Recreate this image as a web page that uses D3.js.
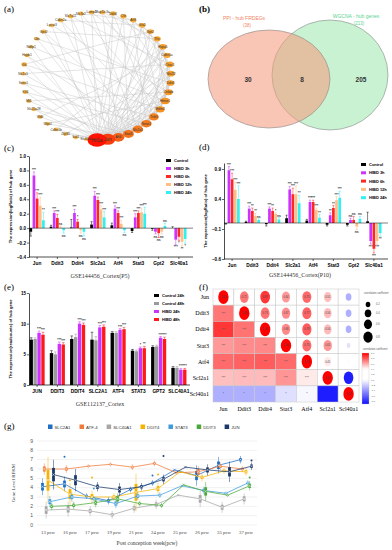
<!DOCTYPE html>
<html>
<head>
<meta charset="utf-8">
<script src="https://cdnjs.cloudflare.com/ajax/libs/d3/7.8.5/d3.min.js"></script>
<style>
  body { margin: 0; background: #fff; }
  svg { display: block; font-family: "Liberation Sans", Arial, sans-serif; }
  .serif { font-family: "Liberation Serif", "DejaVu Serif", serif; }
</style>
</head>
<body>
<svg id="fig" width="392" height="550"></svg>
<script>
// ---------- (a) PPI network ----------
const ppiNodes = ['Hif1a', 'Jun', 'Atf4', 'Stat3', 'Slc2a1', 'Sesn2', 'Trib3', 'Mdm2', 'Hmox1', 'Cebpb',
  'Ddit3', 'Nfe2l2', 'Chac1', 'Cdkn1a', 'Hspa5', 'Tfrc', 'Gpt2', 'Gls2', 'Atf3', 'Cth', 'Ddit4',
  'Map1lc3a', 'Lamp2', 'Slc3a2', 'Slc7a11', 'Cdkn2a', 'Lpcat3', 'Gpx2', 'Cbs', 'Ndfip1', 'Hspb1',
  'Gk', 'Slc1a5', 'Sesn1', 'Klf4', 'Mt1', 'Slc25a28', 'Vldlr', 'Wipi2', 'Cdkn1b', 'Zfp36', 'Sat1', 'Slc40a1'];
// targets for each source index
const ppiLinks = [
  [1, 2, 3, 4, 5, 6, 7, 8, 9, 10, 11, 12, 13, 14, 15, 17, 19, 20, 22, 24, 26, 29, 31, 34, 36, 39, 41, 42],
  [2, 3, 4, 5, 6, 7, 8, 9, 11, 13, 14, 16, 18, 20, 23, 27, 30, 33, 37, 40],
  [3, 4, 5, 6, 10, 12, 14, 17, 21, 25, 28, 35, 38],
  [4, 5, 7, 9, 11, 15, 19, 24, 32, 36],
  [5, 6, 8, 12, 16, 22, 30, 41],
  [6, 7, 10, 13, 18, 27, 34],
  [8, 9, 14, 20, 25, 33],
  [10, 11, 17, 23, 31],
  [12, 15, 21, 29, 38],
  [13, 16, 26, 35],
  [14, 19, 28],
  [15, 22, 40],
  [18, 24, 32],
  [17, 37],
  [20, 39],
  [21, 27],
  [19, 31],
  [25],
  [23]
];

// ---------- (b) Venn ----------
const vennNames = ['PPI - hub FRDEGs', 'WGCNA - hub genes'];
const vennTotals = [38, 213];
const vennCounts = [30, 8, 205];

// ---------- (c)/(d) GSE144456 ----------
const hubGenes = ['Jun', 'Ddit3', 'Ddit4', 'Slc2a1', 'Atf4', 'Stat3', 'Gpt2', 'Slc40a1'];
const hibdGroups = ['Control', 'HIBD 3h', 'HIBD 6h', 'HIBD 12h', 'HIBD 24h'];

const p5Values = [
  [-0.05, 0.73, 0.41, 0.31, 0.11],
  [0.02, 0.21, 0.14, 0.01, -0.03],
  [0.01, 0.21, 0.09, -0.03, -0.05],
  [0.05, 0.45, 0.39, 0.26, 0.15],
  [0.04, 0.27, 0.21, 0.06, -0.03],
  [-0.04, 0.15, 0.21, 0.22, 0.20],
  [-0.01, -0.05, -0.07, -0.05, 0.03],
  [0.00, -0.16, -0.12, -0.19, -0.15]
];
const p5Errors = [
  [0.06, 0.05, 0.08, 0.12, 0.11],
  [0.02, 0.03, 0.05, 0.02, 0.04],
  [0.11, 0.05, 0.03, 0.04, 0.06],
  [0.04, 0.06, 0.04, 0.05, 0.08],
  [0.03, 0.04, 0.03, 0.05, 0.03],
  [0.02, 0.05, 0.03, 0.06, 0.09],
  [0.02, 0.03, 0.06, 0.03, 0.04],
  [0.02, 0.07, 0.05, 0.06, 0.06]
];
const p5Sig = [
  ['***', '***', '***', '**'],
  ['***', '***', 'ns', 'ns'],
  ['***', '*', 'ns', 'ns'],
  ['***', '***', '***', '***'],
  ['***', '***', '***', 'ns'],
  ['***', '***', '***', '***'],
  ['ns', 'ns', 'ns', 'ns'],
  ['***', '*', '**', '*']
];

const p10Values = [
  [-0.01, 0.88, 0.73, 0.55, 0.40],
  [0.02, 0.24, 0.20, 0.12, 0.05],
  [-0.02, 0.24, 0.20, 0.15, 0.06],
  [0.08, 0.56, 0.48, 0.48, 0.33],
  [0.04, 0.35, 0.35, 0.22, 0.09],
  [-0.03, 0.13, 0.25, 0.38, 0.42],
  [-0.03, 0.05, 0.05, -0.06, 0.07],
  [0.03, -0.30, -0.43, -0.30, -0.17]
];
const p10Errors = [
  [0.01, 0.06, 0.10, 0.13, 0.22],
  [0.01, 0.04, 0.05, 0.04, 0.02],
  [0.03, 0.03, 0.05, 0.02, 0.03],
  [0.05, 0.05, 0.10, 0.14, 0.13],
  [0.02, 0.03, 0.03, 0.03, 0.05],
  [0.02, 0.04, 0.04, 0.06, 0.11],
  [0.02, 0.03, 0.06, 0.05, 0.04],
  [0.15, 0.05, 0.07, 0.06, 0.05]
];
const p10Sig = [
  ['***', '***', '***', '***'],
  ['***', '**', '**', 'ns'],
  ['***', '**', '*', 'ns'],
  ['***', '***', '***', '**'],
  ['***', '***', '***', '**'],
  ['**', '**', '***', '***'],
  ['ns', 'ns', 'ns', 'ns'],
  ['***', '***', '***', '**']
];

// ---------- (e) GSE112137 ----------
const hubGenesUpper = ['JUN', 'DDIT3', 'DDIT4', 'SLC2A1', 'ATF4', 'STAT3', 'GPT2', 'SLC40A1'];
const cortexGroups = ['Control 24h', 'Control 48h', 'HIBD 24h', 'HIBD 48h'];
const cortexValues = [
  [7.4, 7.5, 8.5, 8.2],
  [5.2, 5.0, 6.7, 6.6],
  [7.5, 7.8, 10.0, 9.8],
  [7.4, 7.3, 9.4, 9.5],
  [8.5, 8.5, 9.0, 9.1],
  [5.6, 5.5, 6.0, 6.0],
  [6.2, 6.3, 7.7, 7.5],
  [2.8, 2.8, 2.5, 2.5]
];
const cortexErrors = [
  [0.3, 0.2, 0.3, 0.4],
  [0.4, 0.4, 0.3, 0.3],
  [0.5, 0.5, 0.3, 0.3],
  [1.2, 0.6, 0.3, 0.3],
  [0.2, 0.2, 0.2, 0.3],
  [0.2, 0.2, 0.2, 0.3],
  [0.2, 0.2, 0.2, 0.3],
  [0.2, 0.2, 0.2, 0.2]
];
const cortexSig = [
  ['***', '***'], ['***', '***'], ['***', '***'], ['***', '***'],
  ['***', '***'], ['*', '**'], ['***', '***'], ['***', '***']
];

// ---------- (f) correlation ----------
const corrGenes = ['Jun', 'Ddit3', 'Ddit4', 'Stat3', 'Atf4', 'Scl2a1', 'Scl40a1'];
const corrValues = [
  [1.00, 0.72, 0.87, 0.64, 0.75, 0.55, -0.30],
  [0.72, 1.00, 0.73, 0.67, 0.77, 0.56, -0.30],
  [0.87, 0.73, 1.00, 0.68, 0.78, 0.56, -0.30],
  [0.64, 0.67, 0.68, 1.00, 0.75, 0.65, -0.12],
  [0.75, 0.77, 0.78, 0.75, 1.00, 0.45, -0.03],
  [0.55, 0.56, 0.56, 0.65, 0.45, 1.00, -0.85],
  [-0.30, -0.30, -0.30, -0.12, -0.03, -0.85, 1.00]
];
const corrStars = [
  [],
  ['***'],
  ['***', '***'],
  ['***', '***', '***'],
  ['***', '***', '***', '***'],
  ['***', '***', '***', '***', '***'],
  ['*', '*', '*', '*', '*', '']
];
const sizeLegendValues = [0.2, 0.4, 0.6, 0.8];

// ---------- (g) fetal expression ----------
const weeks = ['13 pcw', '16 pcw', '17 pcw', '19 pcw', '21 pcw', '24 pcw', '25 pcw', '26 pcw', '35 pcw', '37 pcw'];
const fetalSeries = ['SLC2A1', 'ATF-4', 'SLC40A1', 'DDIT4', 'STAT3', 'DDIT3', 'JUN'];
const fetalColors = ['#1f6fc5', '#f07a3a', '#a6a6a6', '#f5b400', '#3d9be0', '#4aa83a', '#1b3a6b'];
const slc2a1Rpkm = [4.1, 4.4, 3.1, 2.6, 3.8, 4.5, 5.9, 5.3, 6.4, 7.0];
const atf4Rpkm = [6.0, 6.0, 6.3, 6.5, 6.2, 6.6, 5.6, 5.7, 6.3, 6.0];
const slc40a1Rpkm = [1.6, 1.7, 1.5, 1.1, 1.8, 2.2, 3.2, 2.8, 1.9, 2.8];
const ddit4Rpkm = [4.8, 3.3, 3.0, 3.0, 3.5, 3.9, 5.7, 5.1, 5.8, 5.7];
const stat3Rpkm = [2.5, 3.0, 2.8, 2.3, 3.1, 3.2, 4.2, 3.7, 3.4, 4.5];
const ddit3Rpkm = [2.0, 2.1, 2.4, 2.8, 2.3, 2.1, 4.3, 3.6, 3.2, 4.2];
const junRpkm = [5.4, 4.8, 4.1, 3.8, 4.1, 4.9, 6.2, 5.9, 5.7, 6.3];
const slc2a1Spread = [0.9, 0.8, 0.3, 0.4, 0.3, 0.3, 0.0, 1.1, 0.9, 0.4];
const atf4Spread = [0.6, 0.4, 0.2, 0.2, 0.3, 0.3, 0.0, 0.6, 0.4, 0.3];
const slc40a1Spread = [0.9, 0.8, 0.5, 0.4, 0.5, 0.5, 0.0, 0.9, 0.6, 0.6];
const ddit4Spread = [2.5, 1.2, 0.7, 0.4, 2.0, 0.6, 0.0, 0.4, 0.3, 0.4];
const stat3Spread = [0.6, 0.5, 0.3, 0.5, 0.4, 0.3, 0.0, 0.4, 0.2, 0.3];
const ddit3Spread = [0.4, 0.4, 0.5, 0.6, 0.3, 0.3, 0.0, 1.0, 0.2, 0.5];
const junSpread = [1.6, 1.2, 0.5, 0.7, 0.4, 0.5, 0.0, 0.6, 1.1, 0.4];
const fetalOutliers = [
  ['SLC2A1', '16 pcw', 7.3], ['SLC2A1', '24 pcw', 5.3], ['DDIT4', '16 pcw', 4.8],
  ['DDIT4', '17 pcw', 5.1], ['DDIT4', '24 pcw', 5.4], ['JUN', '24 pcw', 7.4],
  ['JUN', '37 pcw', 6.9], ['DDIT3', '37 pcw', 5.1], ['STAT3', '17 pcw', 3.9]
];

const svg = d3.select('#fig');
svg.append('rect').attr('width', 392).attr('height', 550).attr('fill', '#fff');

function panelLabel(txt, x, y, bold) {
  svg.append('text').attr('class', 'serif')
    .attr('x', x).attr('y', y)
    .attr('font-size', 9)
    .attr('font-weight', bold ? 'bold' : 'normal')
    .text(txt);
}

// ---------------- (a) ----------------
function drawNetwork() {
  const g = svg.append('g');
  const cx = 97, cy = 76, rx = 74, ry = 64;
  const n = ppiNodes.length;
  const angle = d3.scaleLinear().domain([0, n]).range([Math.PI / 2, Math.PI / 2 - 2 * Math.PI]);

  const links = [];
  ppiLinks.forEach((ts, s) => ts.forEach(t => links.push([s, t])));
  const degree = ppiNodes.map(() => 0);
  links.forEach(([s, t]) => { degree[s]++; degree[t]++; });

  const nodes = ppiNodes.map((name, i) => ({
    name, deg: degree[i],
    x: cx + rx * Math.cos(angle(i)),
    y: cy + ry * Math.sin(angle(i))
  }));

  const color = d3.scaleLinear().domain([2, 8, 15, 28])
    .range(['#f8b84a', '#f69a26', '#f2621a', '#ff1200']);
  const size = d3.scaleLinear().domain([1, 28]).range([2.3, 9.5]);

  g.selectAll('.edge').data(links).enter().append('line')
    .attr('class', 'edge')
    .attr('x1', d => nodes[d[0]].x).attr('y1', d => nodes[d[0]].y)
    .attr('x2', d => nodes[d[1]].x).attr('y2', d => nodes[d[1]].y)
    .attr('stroke', '#c4c4c4').attr('stroke-width', 0.45);

  // draw small nodes first so hubs sit on top
  const order = nodes.slice().sort((a, b) => a.deg - b.deg);
  g.selectAll('.node').data(order).enter().append('ellipse')
    .attr('class', 'node')
    .attr('cx', d => d.x).attr('cy', d => d.y)
    .attr('rx', d => size(d.deg)).attr('ry', d => size(d.deg) * 0.72)
    .attr('fill', d => color(d.deg));

  g.selectAll('.nlabel').data(order).enter().append('text')
    .attr('class', 'nlabel')
    .attr('x', d => d.x).attr('y', d => d.y)
    .attr('dy', '0.35em')
    .attr('text-anchor', 'middle')
    .attr('font-size', d => d.deg > 15 ? 4.6 : 3.3)
    .attr('fill', '#333')
    .text(d => d.name);
}

// ---------------- (b) ----------------
function drawVenn() {
  const g = svg.append('g');
  const circles = [
    { cx: 330, cy: 75, rx: 58, ry: 55, fill: '#c9f2d3' },
    { cx: 269, cy: 79, rx: 61, ry: 49, fill: 'rgba(244,155,126,0.58)' }
  ];
  g.selectAll('ellipse').data(circles).enter().append('ellipse')
    .attr('cx', d => d.cx).attr('cy', d => d.cy)
    .attr('rx', d => d.rx).attr('ry', d => d.ry)
    .attr('fill', d => d.fill)
    .attr('stroke', '#8a8a8a').attr('stroke-width', 0.6);

  const titles = [
    { x: 244, y: 20, c: '#f08566' },
    { x: 356, y: 18, c: '#5cd28f' }
  ];
  titles.forEach((t, i) => {
    g.append('text').attr('x', t.x).attr('y', t.y).attr('text-anchor', 'middle')
      .attr('font-size', 5).attr('fill', t.c).text(vennNames[i]);
    g.append('text').attr('x', t.x + 3).attr('y', t.y + 7).attr('text-anchor', 'middle')
      .attr('font-size', 4.5).attr('fill', t.c).text('(' + vennTotals[i] + ')');
  });

  const numX = [248, 302, 361];
  vennCounts.forEach((c, i) => {
    g.append('text').attr('x', numX[i]).attr('y', 82).attr('text-anchor', 'middle')
      .attr('font-size', 6.5).attr('font-weight', 'bold').attr('fill', '#333').text(c);
  });
}

// ---------------- bar panels ----------------
function drawBars(cfg) {
  const g = svg.append('g');
  const x0 = d3.scaleBand().domain(cfg.genes).range(cfg.xRange).paddingInner(0.2);
  const x1 = d3.scaleBand().domain(cfg.groups).range([0, x0.bandwidth()]).padding(0.14);
  const y = d3.scaleLinear().domain(cfg.yDomain).range(cfg.yRange);
  const color = d3.scaleOrdinal().domain(cfg.groups).range(cfg.colors);
  const base = cfg.yDomain[0] < 0 ? 0 : cfg.yDomain[0];

  const rows = [];
  cfg.genes.forEach((gene, gi) => cfg.groups.forEach((grp, si) => {
    rows.push({
      gene, grp,
      v: cfg.values[gi][si],
      e: cfg.errors[gi][si],
      sig: si >= cfg.nControl ? cfg.sig[gi][si - cfg.nControl] : null
    });
  }));

  const bx = d => x0(d.gene) + x1(d.grp);
  const bw = x1.bandwidth();

  // error bars
  rows.forEach(d => {
    const dir = d.v >= 0 ? 1 : -1;
    const yEnd = y(d.v + dir * d.e);
    const mid = bx(d) + bw / 2;
    g.append('line').attr('x1', mid).attr('x2', mid)
      .attr('y1', y(d.v)).attr('y2', yEnd)
      .attr('stroke', color(d.grp)).attr('stroke-width', 0.5);
    g.append('line').attr('x1', mid - bw * 0.4).attr('x2', mid + bw * 0.4)
      .attr('y1', yEnd).attr('y2', yEnd)
      .attr('stroke', color(d.grp)).attr('stroke-width', 0.5);
    if (d.sig) {
      g.append('text').attr('x', mid)
        .attr('y', dir > 0 ? yEnd - 1 : yEnd + 3.6)
        .attr('text-anchor', 'middle')
        .attr('font-size', 3.4).attr('font-weight', 'bold').attr('fill', '#333')
        .text(d.sig);
    }
  });

  g.selectAll('.bar').data(rows).enter().append('rect')
    .attr('class', 'bar')
    .attr('x', bx)
    .attr('y', d => Math.min(y(d.v), y(base)))
    .attr('width', bw)
    .attr('height', d => Math.abs(y(d.v) - y(base)))
    .attr('fill', d => color(d.grp));

  // axes
  const yAxis = g.append('g')
    .attr('transform', `translate(${cfg.xRange[0]},0)`)
    .call(d3.axisLeft(y).tickValues(cfg.ticks).tickFormat(cfg.fmt).tickSize(2).tickSizeOuter(0));
  yAxis.select('.domain').attr('stroke-width', 0.7);
  yAxis.selectAll('.tick line').attr('stroke-width', 0.6);
  yAxis.selectAll('text').attr('font-size', 4.6).attr('font-weight', 'bold').attr('x', -3);

  const yb = cfg.yRange[0];
  g.append('line').attr('x1', cfg.xRange[0]).attr('x2', cfg.axisEnd)
    .attr('y1', yb).attr('y2', yb).attr('stroke', '#000').attr('stroke-width', 0.7);
  if (cfg.yDomain[0] < 0) {
    g.append('line').attr('x1', cfg.xRange[0]).attr('x2', cfg.axisEnd)
      .attr('y1', y(0)).attr('y2', y(0)).attr('stroke', '#000').attr('stroke-width', 0.5);
  }
  cfg.genes.forEach(gene => {
    const cxp = x0(gene) + x0.bandwidth() / 2;
    g.append('line').attr('x1', cxp).attr('x2', cxp).attr('y1', yb).attr('y2', yb + 2)
      .attr('stroke', '#000').attr('stroke-width', 0.6);
    g.append('text').attr('x', cxp).attr('y', yb + 7.5).attr('text-anchor', 'middle')
      .attr('font-size', 4.8).attr('font-weight', 'bold').text(gene);
  });

  const midY = (cfg.yRange[0] + cfg.yRange[1]) / 2;
  g.append('text')
    .attr('transform', `translate(${cfg.yLabelX},${midY}) rotate(-90)`)
    .attr('text-anchor', 'middle')
    .attr('font-size', 4.1).attr('font-weight', 'bold')
    .text(cfg.yLabel);

  g.append('text').attr('class', 'serif')
    .attr('x', cfg.titleX).attr('y', cfg.titleY)
    .attr('text-anchor', 'middle').attr('font-size', 6).attr('fill', '#333')
    .text(cfg.xTitle);

  cfg.groups.forEach((grp, i) => {
    const ly = cfg.legendY + i * cfg.legendStep;
    g.append('rect').attr('x', cfg.legendX).attr('y', ly - 2)
      .attr('width', 5).attr('height', 3).attr('fill', color(grp));
    g.append('text').attr('x', cfg.legendX + 8).attr('y', ly + 1)
      .attr('font-size', 4).attr('font-weight', 'bold').text(grp);
  });
}

// ---------------- (f) ----------------
function drawCorr() {
  const g = svg.append('g');
  const x = d3.scaleBand().domain(corrGenes).range([213, 359]);
  const y = d3.scaleBand().domain(corrGenes).range([289, 402]);
  const color = d3.scaleLinear().domain([-0.9, 0, 0.4, 1])
    .range(['#1010ff', '#ffffff', '#ffffff', '#ff0000']).clamp(true);
  const rad = d3.scaleSqrt().domain([0, 1]).range([0, 5.2]);

  const cells = [];
  corrGenes.forEach((rg, i) => corrGenes.forEach((cg, j) => {
    cells.push({ i, j, rg, cg, r: corrValues[i][j] });
  }));

  g.selectAll('.cell').data(cells).enter().append('rect')
    .attr('class', 'cell')
    .attr('x', d => x(d.cg)).attr('y', d => y(d.rg))
    .attr('width', x.bandwidth()).attr('height', y.bandwidth())
    .attr('fill', d => d.j < d.i ? color(d.r) : '#fff')
    .attr('stroke', '#c8c8c8').attr('stroke-width', 0.5);

  const upper = cells.filter(d => d.j >= d.i);
  g.selectAll('.ell').data(upper).enter().append('ellipse')
    .attr('class', 'ell')
    .attr('cx', d => x(d.cg) + x.bandwidth() / 2)
    .attr('cy', d => y(d.rg) + y.bandwidth() / 2)
    .attr('rx', d => rad(Math.abs(d.r)))
    .attr('ry', d => rad(Math.abs(d.r)) * 1.32)
    .attr('fill', d => color(d.r));

  g.selectAll('.num').data(upper.filter(d => d.r > 0)).enter().append('text')
    .attr('class', 'num')
    .attr('x', d => x(d.cg) + x.bandwidth() / 2)
    .attr('y', d => y(d.rg) + y.bandwidth() / 2)
    .attr('dy', '0.35em').attr('text-anchor', 'middle')
    .attr('font-size', 2.6).attr('fill', '#444')
    .text(d => d.r.toFixed(2));

  const lower = cells.filter(d => d.j < d.i);
  g.selectAll('.star').data(lower).enter().append('text')
    .attr('class', 'star')
    .attr('x', d => x(d.cg) + x.bandwidth() / 2)
    .attr('y', d => y(d.rg) + y.bandwidth() / 2)
    .attr('dy', '0.4em').attr('text-anchor', 'middle')
    .attr('font-size', 3.4).attr('fill', '#555')
    .text(d => corrStars[d.i][d.j]);

  corrGenes.forEach(gn => {
    g.append('text').attr('class', 'serif')
      .attr('x', 209).attr('y', y(gn) + y.bandwidth() / 2).attr('dy', '0.35em')
      .attr('text-anchor', 'end').attr('font-size', 6).text(gn);
    g.append('text').attr('class', 'serif')
      .attr('x', x(gn) + x.bandwidth() / 2).attr('y', 411)
      .attr('text-anchor', 'middle').attr('font-size', 6).text(gn);
  });

  // size legend
  g.append('text').attr('x', 364).attr('y', 294).attr('font-size', 2.6).attr('fill', '#555')
    .text('correlation coefficient');
  let ly = 300;
  sizeLegendValues.forEach(v => {
    const r = rad(v);
    ly += r * 1.3 + 1.5;
    g.append('ellipse').attr('cx', 368).attr('cy', ly)
      .attr('rx', r).attr('ry', r * 1.2).attr('fill', '#000');
    g.append('text').attr('x', 376).attr('y', ly).attr('dy', '0.35em')
      .attr('font-size', 2.6).attr('fill', '#555').text(v.toFixed(1));
    ly += r * 1.3;
  });

  // colour bar
  const cb = d3.scaleLinear().domain([-0.9, 1]).range([404, 353]);
  const grad = svg.append('defs').append('linearGradient')
    .attr('id', 'cbar').attr('x1', 0).attr('x2', 0).attr('y1', 1).attr('y2', 0);
  d3.range(0, 1.0001, 0.05).forEach(t => {
    grad.append('stop').attr('offset', t)
      .attr('stop-color', color(-0.9 + t * 1.9));
  });
  g.append('text').attr('x', 363).attr('y', 350).attr('font-size', 2.6).attr('fill', '#555')
    .text('correlation coefficient');
  g.append('rect').attr('x', 362).attr('y', 353).attr('width', 7).attr('height', 51)
    .attr('fill', 'url(#cbar)').attr('stroke', '#bbb').attr('stroke-width', 0.3);
  cb.ticks(9).forEach(t => {
    g.append('text').attr('x', 371).attr('y', cb(t)).attr('dy', '0.35em')
      .attr('font-size', 2.4).attr('fill', '#555').text(t.toFixed(1));
  });
}

// ---------------- (g) ----------------
function drawFetal() {
  const g = svg.append('g');
  const values = [slc2a1Rpkm, atf4Rpkm, slc40a1Rpkm, ddit4Rpkm, stat3Rpkm, ddit3Rpkm, junRpkm];
  const spreads = [slc2a1Spread, atf4Spread, slc40a1Spread, ddit4Spread, stat3Spread, ddit3Spread, junSpread];
  const x = d3.scaleBand().domain(weeks).range([37, 257]);
  const off = d3.scalePoint().domain(fetalSeries).range([-5.5, 5.5]);
  const y = d3.scaleLinear().domain([0, 9]).range([525, 441]);
  const color = d3.scaleOrdinal().domain(fetalSeries).range(fetalColors);
  const px = (s, w) => x(w) + x.bandwidth() / 2 + off(s);

  d3.range(0, 10).forEach(t => {
    g.append('line').attr('x1', 37).attr('x2', 257).attr('y1', y(t)).attr('y2', y(t))
      .attr('stroke', '#e2e2e2').attr('stroke-width', 0.5);
    g.append('text').attr('x', 33).attr('y', y(t)).attr('dy', '0.35em')
      .attr('text-anchor', 'end').attr('font-size', 5).attr('fill', '#555').text(t);
  });
  weeks.forEach(w => {
    g.append('text').attr('class', 'serif')
      .attr('x', x(w) + x.bandwidth() / 2).attr('y', 534)
      .attr('text-anchor', 'middle').attr('font-size', 4.8).attr('fill', '#444').text(w);
  });

  const line = d3.line().x(d => d.x).y(d => y(d.v));
  fetalSeries.forEach((s, si) => {
    const pts = weeks.map((w, wi) => ({ x: px(s, w), v: values[si][wi], sp: spreads[si][wi] }));
    g.append('path').datum(pts).attr('d', line)
      .attr('fill', 'none').attr('stroke', color(s)).attr('stroke-width', 0.75);
    pts.forEach(p => {
      if (p.sp > 0) {
        g.append('line').attr('x1', p.x).attr('x2', p.x)
          .attr('y1', y(p.v - p.sp)).attr('y2', y(p.v + p.sp))
          .attr('stroke', color(s)).attr('stroke-width', 0.5);
        g.append('rect').attr('x', p.x - 1.4).attr('width', 2.8)
          .attr('y', y(p.v + p.sp * 0.45))
          .attr('height', y(p.v - p.sp * 0.45) - y(p.v + p.sp * 0.45))
          .attr('fill', color(s));
      }
      g.append('path')
        .attr('d', `M${p.x - 1.2},${y(p.v) - 1.2}L${p.x + 1.2},${y(p.v) + 1.2}M${p.x - 1.2},${y(p.v) + 1.2}L${p.x + 1.2},${y(p.v) - 1.2}`)
        .attr('stroke', p.sp > 0 ? '#fff' : color(s)).attr('stroke-width', 0.5);
    });
  });

  g.selectAll('.out').data(fetalOutliers).enter().append('circle')
    .attr('class', 'out')
    .attr('cx', d => px(d[0], d[1])).attr('cy', d => y(d[2]))
    .attr('r', 1).attr('fill', d => color(d[0]));

  // legend
  let lx = 48;
  fetalSeries.forEach(s => {
    g.append('rect').attr('x', lx).attr('y', 424.5).attr('width', 4.5).attr('height', 4.5)
      .attr('fill', color(s));
    const t = g.append('text').attr('x', lx + 6.5).attr('y', 428.6)
      .attr('font-size', 4.3).attr('fill', '#333').text(s);
    lx += 6.5 + t.node().getComputedTextLength() + 9;
  });

  g.append('text').attr('class', 'serif')
    .attr('transform', 'translate(15,483) rotate(-90)')
    .attr('text-anchor', 'middle').attr('font-size', 5).attr('fill', '#333')
    .text('Gene Level RFKM');
  g.append('text').attr('class', 'serif')
    .attr('x', 147).attr('y', 545)
    .attr('text-anchor', 'middle').attr('font-size', 5.5).attr('fill', '#333')
    .text('Post conception week(pcw)');
}

drawNetwork();
drawVenn();

drawBars({
  genes: hubGenes, groups: hibdGroups, nControl: 1,
  values: p5Values, errors: p5Errors, sig: p5Sig,
  colors: ['#000000', '#cc33ff', '#ff2626', '#ffbe85', '#33f0f0'],
  xRange: [29, 187], axisEnd: 193,
  yDomain: [-0.4, 1.0], yRange: [257, 156],
  ticks: [-0.4, -0.2, 0, 0.2, 0.4, 0.6, 0.8, 1.0], fmt: d3.format('.1f'),
  yLabel: 'The expression(logRatio) of hub gene', yLabelX: 12,
  xTitle: 'GSE144456_Cortex(P5)', titleX: 100, titleY: 278,
  legendX: 166, legendY: 161, legendStep: 8
});

drawBars({
  genes: hubGenes, groups: hibdGroups, nControl: 1,
  values: p10Values, errors: p10Errors, sig: p10Sig,
  colors: ['#000000', '#cc33ff', '#ff2626', '#ffbe85', '#33f0f0'],
  xRange: [224, 382], axisEnd: 388,
  yDomain: [-0.6, 1.0], yRange: [259, 163],
  ticks: [-0.6, -0.1, 0.4, 0.9], fmt: d3.format('.1f'),
  yLabel: 'The expression(logRatio) of hub gene', yLabelX: 207,
  xTitle: 'GSE144456_Cortex(P10)', titleX: 300, titleY: 277,
  legendX: 361, legendY: 165, legendStep: 8.3
});

drawBars({
  genes: hubGenesUpper, groups: cortexGroups, nControl: 2,
  values: cortexValues, errors: cortexErrors, sig: cortexSig,
  colors: ['#000000', '#9a9a9a', '#cc33ff', '#ff1a1a'],
  xRange: [29, 187], axisEnd: 190,
  yDomain: [0, 15], yRange: [385, 293],
  ticks: [0, 5, 10, 15], fmt: d3.format('d'),
  yLabel: 'The expression(readcounts) of hub gene', yLabelX: 12,
  xTitle: 'GSE112137_Cortex', titleX: 100, titleY: 406,
  legendX: 154, legendY: 296, legendStep: 8
});

drawCorr();
drawFetal();

panelLabel('(a)', 4, 12);
panelLabel('(b)', 199, 12, true);
panelLabel('(c)', 4, 151);
panelLabel('(d)', 199, 150);
panelLabel('(e)', 4, 290);
panelLabel('(f)', 199, 290);
panelLabel('(g)', 4, 429);
</script>
</body>
</html>
